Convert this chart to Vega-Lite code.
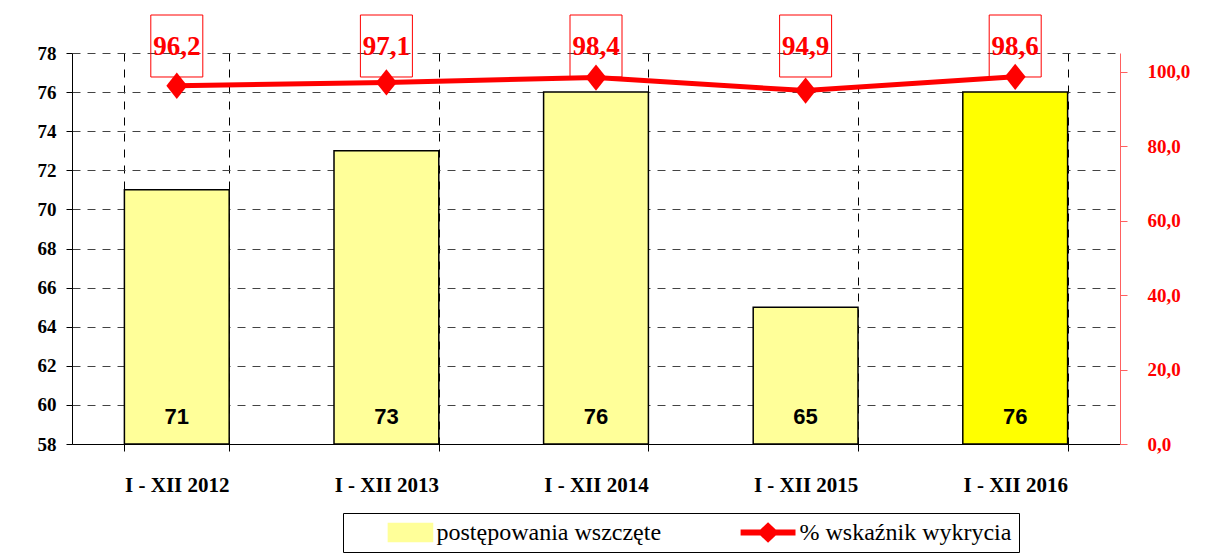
{
  "$schema": "https://vega.github.io/schema/vega-lite/v6.json",
  "width": 1048,
  "height": 391,
  "autosize": {"type": "none"},
  "padding": {"left": 72, "top": 53, "right": 94, "bottom": 110},
  "background": "white",
  "config": {
    "font": "Liberation Serif",
    "locale": {"number": {"decimal": ",", "thousands": " ", "grouping": [3], "currency": ["", " zł"]}},
    "view": {"stroke": null},
    "axis": {"labelFont": "Liberation Serif", "labelFontWeight": "bold"},
    "legend": {
      "labelFont": "Liberation Serif", "labelFontSize": 24, "labelColor": "black",
      "labelOffset": 1, "columnPadding": 79, "padding": 7.5, "symbolSize": 324,
      "strokeColor": "black", "fillColor": "white", "labelLimit": 400,
      "titleOrient": "left", "titleFontSize": 10, "titlePadding": 61
    }
  },
  "data": {
    "values": [
      {"rok": "I - XII 2012", "postepowania": 71, "wskaznik": 96.2},
      {"rok": "I - XII 2013", "postepowania": 73, "wskaznik": 97.1},
      {"rok": "I - XII 2014", "postepowania": 76, "wskaznik": 98.4},
      {"rok": "I - XII 2015", "postepowania": 65, "wskaznik": 94.9},
      {"rok": "I - XII 2016", "postepowania": 76, "wskaznik": 98.6}
    ]
  },
  "encoding": {
    "x": {
      "field": "rok", "type": "nominal", "sort": null,
      "scale": {"paddingInner": 0.5, "paddingOuter": 0.25},
      "axis": {
        "title": null, "tickBand": "extent", "tickSize": 7, "tickColor": "black",
        "domainColor": "black", "domainWidth": 1,
        "grid": true, "gridColor": "black", "gridDash": [8, 8], "gridWidth": 1,
        "labelFont": "Liberation Serif", "labelFontWeight": "bold", "labelFontSize": 21,
        "labelColor": "black", "labelPadding": 23, "labelAngle": 0
      }
    }
  },
  "layer": [
    {
      "encoding": {
        "y": {
          "field": "postepowania", "type": "quantitative",
          "scale": {"domain": [58, 78], "zero": false, "nice": false},
          "axis": {
            "title": null, "values": [58, 60, 62, 64, 66, 68, 70, 72, 74, 76, 78],
            "tickSize": 6, "tickColor": "black", "domainColor": "black",
            "grid": true, "gridColor": "#444444", "gridDash": [8, 7], "gridWidth": 1,
            "labelFont": "Liberation Serif", "labelFontWeight": "bold", "labelFontSize": 19,
            "labelColor": "black", "labelPadding": 10
          }
        }
      },
      "layer": [
        {
          "mark": {"type": "bar", "stroke": "black", "strokeWidth": 1.5},
          "encoding": {
            "y2": {"datum": 58},
            "color": {
              "condition": {"test": "datum.rok === 'I - XII 2016'", "value": "#FFFF00"},
              "datum": "postępowania wszczęte",
              "scale": {"domain": ["postępowania wszczęte", "% wskaźnik wykrycia"], "range": ["#FFFF99", "#FF0000"]},
              "legend": {
                "title": " ", "titleOrient": "left", "titlePadding": 61, "titleFontSize": 10,
                "orient": "none", "legendX": 271, "legendY": 460,
                "direction": "horizontal", "columns": 2,
                "encode": {
                  "symbols": {
                    "update": {
                      "shape": {"signal": "datum.value === 'postępowania wszczęte' ? 'M-3.9,-1H1V1H-3.9Z' : 'M-5.1,-0.33H-2.9L-2.05,-1.15L-1.2,-0.33H1V0.33H-1.2L-2.05,1.15L-2.9,0.33H-5.1Z'"},
                      "fill": {"signal": "datum.value === 'postępowania wszczęte' ? '#FFFF99' : '#FF0000'"},
                      "stroke": {"signal": "datum.value === 'postępowania wszczęte' ? 'black' : '#FF0000'"},
                      "strokeWidth": {"signal": "datum.value === 'postępowania wszczęte' ? 1.5 : 0"},
                      "opacity": {"value": 1},
                      "fillOpacity": {"value": 1}
                    }
                  }
                }
              }
            }
          }
        },
        {
          "mark": {"type": "text", "font": "Liberation Sans", "fontWeight": "bold", "fontSize": 22, "baseline": "alphabetic", "dy": -20, "color": "black"},
          "encoding": {
            "y": {"datum": 58, "type": "quantitative"},
            "text": {"field": "postepowania", "type": "quantitative"}
          }
        }
      ]
    },
    {
      "encoding": {
        "y": {
          "field": "wskaznik", "type": "quantitative",
          "scale": {"domain": [0, 105], "nice": false},
          "axis": {
            "orient": "right", "title": null, "values": [0, 20, 40, 60, 80, 100], "format": ".1f",
            "grid": false, "tickSize": 7, "tickColor": "#FF6060", "domainColor": "#FF6060",
            "labelFont": "Liberation Serif", "labelFontWeight": "bold", "labelFontSize": 19,
            "labelColor": "#FF0000", "labelPadding": 20
          }
        }
      },
      "layer": [
        {
          "mark": {"type": "line", "strokeWidth": 5},
          "encoding": {
            "color": {
              "datum": "% wskaźnik wykrycia",
              "legend": {
                "title": " ", "titleOrient": "left", "titlePadding": 61, "titleFontSize": 10,
                "orient": "none", "legendX": 271, "legendY": 460,
                "direction": "horizontal", "columns": 2,
                "encode": {
                  "symbols": {
                    "update": {
                      "shape": {"signal": "datum.value === 'postępowania wszczęte' ? 'M-3.9,-1H1V1H-3.9Z' : 'M-5.1,-0.33H-2.9L-2.05,-1.15L-1.2,-0.33H1V0.33H-1.2L-2.05,1.15L-2.9,0.33H-5.1Z'"},
                      "fill": {"signal": "datum.value === 'postępowania wszczęte' ? '#FFFF99' : '#FF0000'"},
                      "stroke": {"signal": "datum.value === 'postępowania wszczęte' ? 'black' : '#FF0000'"},
                      "strokeWidth": {"signal": "datum.value === 'postępowania wszczęte' ? 1.5 : 0"},
                      "opacity": {"value": 1},
                      "fillOpacity": {"value": 1}
                    }
                  }
                }
              }
            }
          }
        },
        {
          "mark": {"type": "point", "shape": "M0,-1.2L0.95,0L0,1.2L-0.95,0Z", "size": 484, "filled": true, "opacity": 1},
          "encoding": {"color": {"datum": "% wskaźnik wykrycia"}}
        },
        {
          "mark": {"type": "point", "shape": "M-1,-1.192H1V1.192H-1Z", "size": 2704, "filled": false, "stroke": "#FF0000", "fill": null, "strokeWidth": 1, "opacity": 1},
          "encoding": {"y": {"datum": 106.88, "type": "quantitative"}}
        },
        {
          "mark": {"type": "text", "font": "Liberation Serif", "fontWeight": "bold", "fontSize": 27, "baseline": "alphabetic", "color": "#FF0000"},
          "encoding": {
            "y": {"datum": 104.33, "type": "quantitative"},
            "text": {"field": "wskaznik", "type": "quantitative", "format": ".1f"}
          }
        }
      ]
    }
  ],
  "resolve": {"scale": {"y": "independent"}}
}
